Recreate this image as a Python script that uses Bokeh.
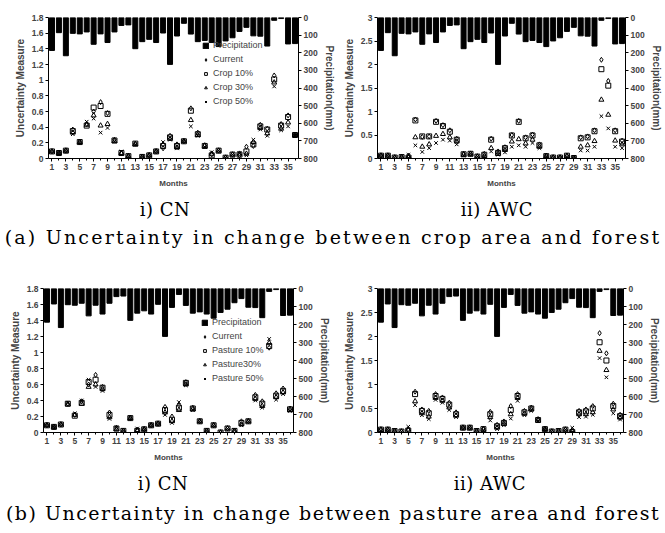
from bokeh.plotting import figure
from bokeh.models import (Range1d, LinearAxis, FixedTicker, PrintfTickFormatter,
                          Legend, LegendItem, Div)
from bokeh.layouts import column, row
from bokeh.embed import file_html
from bokeh.resources import INLINE

months = list(range(1, 37))
precip = [187, 86, 217, 90, 93, 82, 152, 93, 142, 82, 45, 42, 177, 137, 124, 142, 88, 266,
          105, 33, 94, 137, 130, 142, 165, 133, 115, 79, 56, 104, 106, 162, 16, 6, 150, 148]

cn_crop_current = [0.09,0.07,0.10,0.37,0.21,0.44,0.60,0.72,0.58,0.24,0.07,0.03,0.19,0.02,0.04,0.09,0.13,0.29,0.18,0.22,0.64,0.33,0.17,0.05,0.10,0.01,0.05,0.04,0.15,0.16,0.43,0.38,1.06,0.44,0.55,0.30]
cn_crop_10 = [0.09,0.07,0.10,0.35,0.21,0.42,0.65,0.67,0.57,0.23,0.07,0.03,0.19,0.02,0.04,0.09,0.16,0.27,0.16,0.22,0.61,0.31,0.16,0.04,0.10,0.01,0.05,0.05,0.09,0.18,0.41,0.37,1.01,0.42,0.53,0.30]
cn_crop_30 = [0.09,0.07,0.10,0.33,0.21,0.43,0.55,0.42,0.44,0.22,0.07,0.03,0.18,0.02,0.04,0.09,0.18,0.25,0.14,0.22,0.49,0.30,0.16,0.06,0.10,0.01,0.05,0.06,0.06,0.21,0.39,0.32,0.97,0.38,0.46,0.30]
cn_crop_50 = [0.09,0.07,0.10,0.31,0.21,0.47,0.51,0.33,0.39,0.22,0.09,0.03,0.18,0.02,0.04,0.09,0.21,0.24,0.13,0.22,0.41,0.29,0.15,0.08,0.10,0.01,0.05,0.07,0.04,0.24,0.37,0.29,0.92,0.36,0.41,0.30]

awc_crop_current = [0.06,0.06,0.02,0.03,0.02,0.83,0.46,0.47,0.80,0.71,0.60,0.42,0.10,0.10,0.04,0.10,0.42,0.15,0.24,0.50,0.80,0.45,0.51,0.30,0.06,0.02,0.02,0.06,0.01,0.45,0.47,0.60,2.10,1.65,0.60,0.38]
awc_crop_10 = [0.06,0.06,0.02,0.03,0.02,0.81,0.47,0.47,0.78,0.69,0.57,0.40,0.09,0.10,0.04,0.08,0.40,0.12,0.22,0.49,0.78,0.43,0.49,0.28,0.05,0.02,0.02,0.06,0.01,0.43,0.45,0.58,1.90,1.55,0.58,0.36]
awc_crop_30 = [0.06,0.06,0.02,0.03,0.05,0.45,0.25,0.30,0.48,0.52,0.45,0.36,0.08,0.10,0.04,0.05,0.22,0.10,0.18,0.36,0.41,0.32,0.40,0.25,0.05,0.02,0.02,0.05,0.01,0.25,0.28,0.37,1.25,0.93,0.38,0.30]
awc_crop_50 = [0.06,0.06,0.02,0.03,0.08,0.28,0.14,0.22,0.33,0.40,0.38,0.30,0.07,0.10,0.04,0.03,0.15,0.08,0.13,0.25,0.28,0.25,0.33,0.22,0.05,0.02,0.02,0.04,0.01,0.17,0.17,0.25,0.90,0.64,0.25,0.22]

cn_past_current = [0.09,0.07,0.10,0.36,0.22,0.39,0.60,0.72,0.57,0.25,0.06,0.02,0.18,0.02,0.04,0.09,0.11,0.32,0.20,0.34,0.63,0.31,0.14,0.02,0.09,0.00,0.05,0.02,0.14,0.14,0.47,0.39,1.06,0.49,0.55,0.30]
cn_past_10 = [0.09,0.07,0.10,0.36,0.21,0.37,0.63,0.66,0.56,0.22,0.05,0.02,0.18,0.02,0.04,0.09,0.11,0.28,0.16,0.31,0.62,0.30,0.14,0.02,0.09,0.00,0.05,0.02,0.12,0.14,0.44,0.36,1.08,0.46,0.52,0.29]
cn_past_30 = [0.09,0.07,0.10,0.35,0.22,0.36,0.57,0.60,0.54,0.19,0.04,0.02,0.18,0.03,0.04,0.09,0.11,0.25,0.14,0.28,0.60,0.29,0.14,0.02,0.09,0.00,0.05,0.02,0.10,0.14,0.42,0.33,1.12,0.44,0.50,0.28]
cn_past_50 = [0.09,0.07,0.10,0.37,0.24,0.40,0.66,0.57,0.52,0.17,0.06,0.02,0.18,0.05,0.04,0.09,0.11,0.22,0.12,0.38,0.59,0.28,0.14,0.02,0.09,0.00,0.05,0.03,0.09,0.14,0.40,0.31,1.17,0.41,0.48,0.27]

awc_past_current = [0.07,0.06,0.03,0.02,0.05,0.85,0.48,0.45,0.80,0.73,0.62,0.42,0.10,0.10,0.03,0.08,0.43,0.16,0.23,0.55,0.80,0.45,0.52,0.28,0.07,0.02,0.03,0.06,0.02,0.45,0.48,0.55,2.07,1.65,0.60,0.37]
awc_past_10 = [0.06,0.06,0.03,0.02,0.04,0.80,0.45,0.40,0.76,0.70,0.58,0.38,0.10,0.10,0.03,0.07,0.38,0.13,0.20,0.47,0.76,0.42,0.50,0.26,0.07,0.02,0.03,0.06,0.01,0.42,0.44,0.50,1.88,1.50,0.55,0.34]
awc_past_30 = [0.05,0.06,0.03,0.02,0.06,0.65,0.40,0.33,0.72,0.66,0.52,0.35,0.10,0.10,0.03,0.06,0.32,0.10,0.18,0.38,0.72,0.39,0.48,0.25,0.07,0.02,0.03,0.06,0.05,0.38,0.38,0.42,1.70,1.30,0.48,0.31]
awc_past_50 = [0.04,0.06,0.03,0.02,0.12,0.57,0.36,0.28,0.68,0.62,0.47,0.32,0.10,0.10,0.03,0.05,0.25,0.07,0.15,0.29,0.66,0.36,0.45,0.24,0.07,0.02,0.03,0.06,0.10,0.32,0.33,0.37,1.55,1.15,0.40,0.27]

crop_labels = ["Precipitation", "Current", "Crop 10%", "Crop 30%", "Crop 50%"]
past_labels = ["Precipitation", "Current", "Pasture 10%", "Pasture30%", "Pasture 50%"]

cn_ticks = [0, 0.2, 0.4, 0.6, 0.8, 1.0, 1.2, 1.4, 1.6, 1.8]
awc_ticks = [0, 0.5, 1.0, 1.5, 2.0, 2.5, 3.0]
precip_ticks = [0, 100, 200, 300, 400, 500, 600, 700, 800]
month_ticks = list(range(1, 37, 2))

sub_titles = ["i) CN", "ii) AWC"]
caption_a = "(a) Uncertainty in change between crop area and forest"
caption_b = "(b) Uncertainty in change between pasture area and forest"

FONT = "Liberation Sans"
markers = ["diamond", "square", "triangle", "x"]


def panel(series, yticks, w, h, bl, br, bt, bb, labels=None, leg_loc=None):
    p = figure(width=w, height=h, x_range=Range1d(0.5, 36.5),
               y_range=Range1d(0, yticks[-1]), output_backend="svg",
               toolbar_location=None, min_border_left=bl, min_border_right=br,
               min_border_top=bt, min_border_bottom=bb)
    p.outline_line_color = None
    p.xgrid.visible = False
    p.ygrid.visible = False
    p.extra_y_ranges = {"pr": Range1d(800, 0)}
    bars = p.vbar(x=months, top=precip, bottom=0, width=0.72, y_range_name="pr",
                  color="black")
    rs = []
    for s, m in zip(series, markers):
        r = p.scatter(x=months, y=s, marker=m, size=5, line_color="black",
                      fill_color=None, line_width=1)
        rs.append(r)
    xa = p.xaxis[0]
    xa.ticker = FixedTicker(ticks=month_ticks, minor_ticks=months)
    xa.axis_label = "Months"
    ya = p.yaxis[0]
    ya.ticker = FixedTicker(ticks=yticks)
    ya.formatter = PrintfTickFormatter(format="%g")
    ya.axis_label = "Uncertainty Measure"
    ra = LinearAxis(y_range_name="pr", ticker=FixedTicker(ticks=precip_ticks),
                    axis_label="Precipitation(mm)")
    p.add_layout(ra, "right")
    for a in (xa, ya, ra):
        a.major_label_text_font = FONT
        a.major_label_text_font_style = "bold"
        a.major_label_text_font_size = "8.5px"
        a.axis_label_text_font = FONT
        a.axis_label_text_font_style = "bold"
        a.axis_label_text_font_size = "10px"
        a.major_tick_in = 0
        a.major_tick_out = 3
        a.minor_tick_in = 0
        a.minor_tick_out = 2
        a.major_label_standoff = 2
        a.axis_label_standoff = 3
        a.axis_line_color = "black"
    xa.axis_label_text_font_size = "8px"
    xa.axis_label_standoff = 6
    if labels:
        items = [LegendItem(label=labels[0], renderers=[bars])]
        for lab, r in zip(labels[1:], rs):
            items.append(LegendItem(label=lab, renderers=[r]))
        leg = Legend(items=items, location=leg_loc, border_line_color=None,
                     background_fill_alpha=0, padding=0, margin=0,
                     glyph_width=7, glyph_height=7, label_standoff=4, spacing=4,
                     label_height=9, label_text_font=FONT,
                     label_text_font_size="9px")
        p.add_layout(leg)
    return p


tl = panel([cn_crop_current, cn_crop_10, cn_crop_30, cn_crop_50], cn_ticks,
           340, 196, 48, 42, 17, 38, crop_labels, (154, 52))
tr = panel([awc_crop_current, awc_crop_10, awc_crop_30, awc_crop_50], awc_ticks,
           325, 196, 33, 40, 17, 34)
bl = panel([cn_past_current, cn_past_10, cn_past_30, cn_past_50], cn_ticks,
           340, 212, 43, 47, 31, 33, past_labels, (158, 49))
br = panel([awc_past_current, awc_past_10, awc_past_30, awc_past_50], awc_ticks,
           325, 212, 26, 42, 35, 32)


def span(text, x, y, size, ls):
    return ('<span style="position:absolute;left:%dpx;top:%dpx;'
            'transform:translate(-50%%,-50%%);white-space:nowrap;font-size:%s;'
            'letter-spacing:%s;">%s</span>' % (x, y, size, ls, text))


def caption(h, y1, y2, sub_x, main_text, ls):
    html = ('<div style="position:relative;width:665px;height:%dpx;'
            'font-family:\'DejaVu Serif\';color:black;line-height:1;">' % h)
    for x, t in zip(sub_x, sub_titles):
        html += span(t, x, y1, "18px", "0.5px")
    html += span(main_text, 333, y2, "19px", ls)
    html += '</div>'
    return Div(text=html, width=665, height=h, margin=0)


cap1 = caption(57, 14, 41, [165, 497], caption_a, "2.2px")
cap2 = caption(68, 19, 48, [163, 490], caption_b, "1.5px")

layout = column(row(tl, tr), cap1, row(bl, br), cap2)
open("out.html", "w").write(file_html(layout, INLINE))
